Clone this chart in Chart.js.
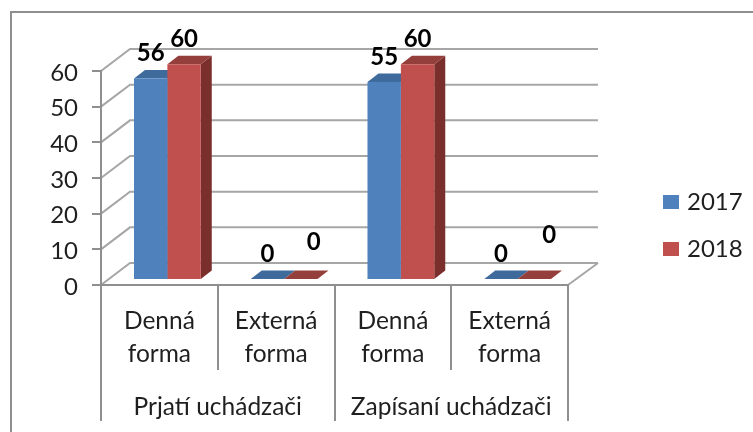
<!DOCTYPE html>
<html>
<head>
<meta charset="utf-8">
<script src="https://cdn.jsdelivr.net/npm/chart.js@4/dist/chart.umd.min.js"></script>
<style>
  html, body { margin: 0; padding: 0; background: #fff; }
  canvas { display: block; }
</style>
</head>
<body>
<canvas id="myChart" width="753" height="432"></canvas>
<script>
const categories = [["Denná", "forma"], ["Externá", "forma"], ["Denná", "forma"], ["Externá", "forma"]];
const groups = ["Prjatí uchádzači", "Zapísaní uchádzači"];
const values2017 = [56, 0, 55, 0];
const values2018 = [60, 0, 60, 0];

// the zero labels of 2018 sit off their bars in the original
const labelNudgeX2018 = [0, 13, 0, 15];
const labelNudgeY2018 = [0, -12, 0, -19];

const gray = "#8f8f8f";
const wallGray = "#a6a6a6";
const textColor = "#1f1f1f";
const fontName = "Lato, Carlito, sans-serif";

// fake 3d: bars stand a little inside the floor, walls sit further back
const barShiftX = 8;
const depthX = 11;
const depthY = 8.5;
const wallX = 29;
const wallY = 22;

const faces = [
  { top: "#3f6a9c", side: "#35577f" },
  { top: "#953f3c", side: "#7b2f2d" },
];

function fillPoly(ctx, color, pts) {
  ctx.fillStyle = color;
  ctx.beginPath();
  pts.forEach((p, i) => (i ? ctx.lineTo(p[0], p[1]) : ctx.moveTo(p[0], p[1])));
  ctx.closePath();
  ctx.fill();
}

const frame3d = {
  id: "frame3d",
  afterLayout(chart) {
    // legend stays out of the layout, just park it right of the plot
    chart.legend.left = 644;
    chart.legend.top = 167;
    chart.legend.right = 753;
    chart.legend.bottom = 432;
  },
  beforeDraw(chart) {
    const { ctx } = chart;
    const y = chart.scales.y;
    const { left, right, bottom } = chart.chartArea;
    ctx.save();

    // outer frame, only top and left show in the crop
    ctx.strokeStyle = gray;
    ctx.lineWidth = 2;
    ctx.beginPath();
    ctx.moveTo(11, 432);
    ctx.lineTo(11, 12);
    ctx.lineTo(753, 12);
    ctx.stroke();

    ctx.strokeStyle = wallGray;
    y.ticks.forEach((t) => {
      const py = y.getPixelForValue(t.value);
      ctx.beginPath();
      ctx.moveTo(left, py);
      ctx.lineTo(left + wallX, py - wallY);
      ctx.lineTo(right + wallX + 1, py - wallY);
      ctx.stroke();
    });
    ctx.beginPath();
    ctx.moveTo(right, bottom);
    ctx.lineTo(right + wallX + 1, bottom - wallY);
    ctx.stroke();
    ctx.restore();
  },
  beforeDatasetsDraw(chart) {
    const { ctx } = chart;
    chart.data.datasets.forEach((ds, i) => {
      chart.getDatasetMeta(i).data.forEach((bar) => {
        const x0 = bar.x - bar.width / 2 + barShiftX;
        const x1 = bar.x + bar.width / 2 + barShiftX;
        fillPoly(ctx, faces[i].side, [
          [x1, bar.y],
          [x1 + depthX, bar.y - depthY],
          [x1 + depthX, bar.base - depthY],
          [x1, bar.base],
        ]);
        fillPoly(ctx, faces[i].top, [
          [x0, bar.y],
          [x0 + depthX, bar.y - depthY],
          [x1 + depthX, bar.y - depthY],
          [x1, bar.y],
        ]);
      });
    });
  },
  beforeDatasetDraw(chart) {
    chart.ctx.save();
    chart.ctx.translate(barShiftX, 0);
  },
  afterDatasetDraw(chart) {
    chart.ctx.restore();
  },
  afterDatasetsDraw(chart) {
    const { ctx } = chart;
    ctx.save();
    ctx.fillStyle = "#000";
    ctx.font = "bold 24px " + fontName;
    ctx.textAlign = "center";
    ctx.textBaseline = "middle";
    chart.data.datasets.forEach((ds, i) => {
      chart.getDatasetMeta(i).data.forEach((bar, j) => {
        const dx = i === 1 ? labelNudgeX2018[j] : 0;
        const dy = i === 1 ? labelNudgeY2018[j] : 0;
        ctx.fillText(ds.data[j], bar.x + barShiftX + dx, bar.y - 25 + dy);
      });
    });
    ctx.restore();
  },
};

const data = {
  labels: categories,
  datasets: [
    { label: "2017", data: values2017, backgroundColor: "#4f81bd", yAxisID: "yBars", clip: false },
    { label: "2018", data: values2018, backgroundColor: "#c0504d", yAxisID: "yBars", clip: false },
  ],
};

const config = {
  type: "bar",
  data: data,
  plugins: [frame3d],
  options: {
    responsive: false,
    animation: false,
    categoryPercentage: 0.572,
    barPercentage: 1,
    layout: { padding: { left: 0, right: 185, top: 71, bottom: 11 } },
    scales: {
      y: {
        min: 0,
        max: 60,
        ticks: { stepSize: 10, padding: 14, labelOffset: 2, color: textColor, font: { family: fontName, size: 24 } },
        grid: { drawOnChartArea: false, tickLength: 9, color: gray, lineWidth: 2 },
        border: { color: gray, width: 2 },
        afterFit: (s) => { s.width = 101; },
      },
      // same plot height, zero lifted 6px off the front edge of the floor
      yBars: { display: false, min: -1.676, max: 58.1 },
      x: {
        offset: true,
        ticks: {
          autoSkip: false,
          maxRotation: 0,
          padding: -65.5,
          color: textColor,
          font: { family: fontName, size: 24.5, lineHeight: 1.36 },
        },
        grid: { drawOnChartArea: false, offset: true, tickLength: 85, color: gray, lineWidth: 2 },
        border: { color: gray, width: 2 },
        afterFit: (s) => { s.height = 85; },
      },
      xGroup: {
        type: "category",
        position: "bottom",
        labels: groups,
        offset: true,
        ticks: {
          autoSkip: false,
          maxRotation: 0,
          padding: -29,
          color: textColor,
          font: { family: fontName, size: 24.5 },
        },
        grid: { drawOnChartArea: false, offset: true, tickLength: 51, color: gray, lineWidth: 2 },
        border: { display: false },
        afterFit: (s) => { s.height = 51; },
      },
    },
    plugins: {
      tooltip: { enabled: false },
      legend: {
        position: "chartArea",
        align: "start",
        labels: {
          // small box plus thick stroke, keeps the text closer to the swatch
          boxWidth: 8,
          boxHeight: 6,
          padding: 23,
          color: textColor,
          font: { family: fontName, size: 24 },
          generateLabels: (chart) =>
            Chart.defaults.plugins.legend.labels.generateLabels(chart).map((item) => ({
              ...item,
              strokeStyle: item.fillStyle,
              lineWidth: 8,
            })),
        },
      },
    },
  },
};

const myChart = new Chart(document.querySelector("#myChart").getContext("2d"), config);
</script>
</body>
</html>
